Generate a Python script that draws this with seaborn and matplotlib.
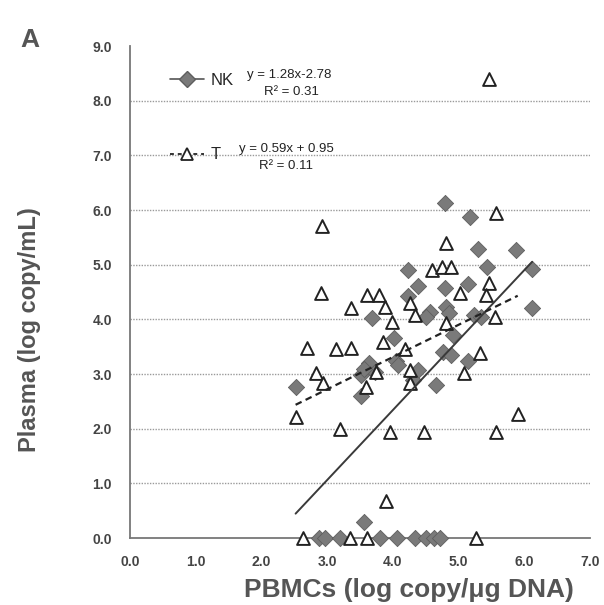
import matplotlib
matplotlib.use("Agg")
import matplotlib.pyplot as plt
from matplotlib.lines import Line2D
import seaborn as sns
import numpy as np
import pandas as pd

# ---- data ----
nk_x = [4.79, 5.17, 5.29, 5.87, 4.23, 5.44, 6.12, 4.38, 4.79, 5.14, 4.23, 6.12,
        4.56, 4.51, 4.81, 4.86, 5.24, 5.34, 4.91, 4.76, 4.88, 5.14, 4.38, 4.30,
        4.66, 3.68, 4.02, 3.63, 3.52, 3.73, 3.56, 4.05, 4.08, 2.52, 3.52, 3.56,
        2.88, 2.97, 3.20, 3.80, 4.07, 4.33, 4.51, 4.63, 4.72]
nk_y = [6.13, 5.88, 5.28, 5.27, 4.91, 4.95, 4.92, 4.61, 4.57, 4.65, 4.43, 4.20,
        4.14, 4.05, 4.23, 4.11, 4.08, 4.05, 3.72, 3.41, 3.35, 3.23, 3.07, 2.89,
        2.80, 4.02, 3.65, 3.20, 2.98, 3.04, 3.10, 3.23, 3.16, 2.76, 2.60, 0.30,
        0.0, 0.0, 0.0, 0.0, 0.0, 0.0, 0.0, 0.0, 0.0]

t_x = [5.47, 2.92, 5.57, 4.81, 4.59, 4.75, 4.89, 2.90, 3.60, 3.79, 5.02, 5.46,
       5.41, 3.88, 3.36, 4.26, 4.33, 5.55, 3.99, 4.81, 3.85, 2.70, 3.14, 3.36,
       4.18, 5.32, 5.09, 4.26, 4.26, 3.75, 2.83, 2.93, 3.59, 2.52, 5.90, 3.19,
       3.95, 4.48, 5.57, 3.89, 2.64, 3.35, 3.60, 5.26]
t_y = [8.40, 5.71, 5.95, 5.40, 4.91, 4.95, 4.96, 4.49, 4.44, 4.44, 4.48, 4.66,
       4.44, 4.23, 4.20, 4.29, 4.08, 4.05, 3.95, 3.94, 3.59, 3.47, 3.45, 3.47,
       3.45, 3.38, 3.01, 3.07, 2.83, 3.04, 3.01, 2.83, 2.77, 2.22, 2.27, 1.99,
       1.94, 1.94, 1.94, 0.68, 0.0, 0.0, 0.0, 0.0]

# trendline coefficients as printed on the chart
nk_fit = (1.28, -2.78)
t_fit = (0.59, 0.95)
nk_eq = ["y = 1.28x-2.78", "R² = 0.31"]
t_eq = ["y = 0.59x + 0.95", "R² = 0.11"]

x_ticks = [0, 1, 2, 3, 4, 5, 6, 7]
y_ticks = [0, 1, 2, 3, 4, 5, 6, 7, 8, 9]

sns.set_style("white")
plt.rcParams['font.family'] = ['Liberation Sans', 'DejaVu Sans']

fig = plt.figure(figsize=(6.04, 6.05), dpi=100)
ax = fig.add_axes([130/604, 1-538/605, 460/604, 492/605])

nk_df = pd.DataFrame({"x": nk_x, "y": nk_y})
t_df = pd.DataFrame({"x": t_x, "y": t_y})

# grid lines
for v in y_ticks[1:-1]:
    ax.axhline(v, color="#9a9a9a", lw=1.0, ls=(0, (1, 1)), zorder=0)

sns.scatterplot(data=nk_df, x="x", y="y", marker="D", s=68, color="#7a7a7a",
                edgecolor="#5e5e5e", linewidth=0.6, ax=ax, zorder=3)
sns.scatterplot(data=t_df, x="x", y="y", marker="^", s=85, facecolor="white",
                edgecolor="#222222", linewidth=1.4, ax=ax, zorder=4)

# trend lines
nk_line = pd.DataFrame({"x": [min(nk_x), max(nk_x)]})
nk_line["y"] = nk_fit[0] * nk_line["x"] + nk_fit[1]
t_line = pd.DataFrame({"x": [min(t_x), max(t_x)]})
t_line["y"] = t_fit[0] * t_line["x"] + t_fit[1]
sns.lineplot(data=nk_line, x="x", y="y", color="#3a3a3a", lw=1.4, ax=ax, zorder=5)
sns.lineplot(data=t_line, x="x", y="y", color="#222222", lw=1.6,
             linestyle=(0, (3, 2)), ax=ax, zorder=5)

ax.set_xlim(0, 7)
ax.set_ylim(0, 9)
ax.set_xticks(x_ticks)
ax.set_yticks(y_ticks)
ax.set_xticklabels([f"{v:.1f}" for v in x_ticks], fontsize=10, fontweight="bold", color="#444444")
ax.set_yticklabels([f"{v:.1f}" for v in y_ticks], fontsize=10, fontweight="bold", color="#444444")
ax.tick_params(axis="x", length=4, width=1, color="#888888", direction="out", pad=8)
ax.tick_params(axis="y", length=4, width=1, color="#888888", direction="out", pad=9)
for s in ["top", "right"]:
    ax.spines[s].set_visible(False)
for s in ["left", "bottom"]:
    ax.spines[s].set_color("#777777")
    ax.spines[s].set_linewidth(1.3)
for c in ax.collections:
    c.set_clip_on(False)

ax.set_xlabel("PBMCs (log copy/μg DNA)", fontsize=19, fontweight="bold", color="#555555")
ax.xaxis.set_label_coords((409 - 130) / 460, -(590 - 538) / 492)
ax.xaxis.label.set_va("center")
ax.set_ylabel("Plasma (log copy/mL)", fontsize=17, fontweight="bold", color="#555555")
ax.yaxis.set_label_coords(-(130 - 30) / 460, (538 - 330) / 492)
ax.yaxis.label.set_va("center")

handles = [
    Line2D([0], [0], color="#555555", lw=1.2, marker="D", markersize=8,
           markerfacecolor="#7a7a7a", markeredgecolor="#5e5e5e"),
    Line2D([0], [0], color="#333333", lw=1.4, ls=(0, (2, 2)), marker="^", markersize=9,
           markerfacecolor="white", markeredgecolor="#222222", markeredgewidth=1.3),
]
ax.legend(handles, ["NK", "T"], loc="upper left", bbox_to_anchor=(0.055, 0.975),
          frameon=False, fontsize=12, labelspacing=3.55, handlelength=2.0,
          handletextpad=0.4)

ax.text(0.345, 0.942, nk_eq[0], transform=ax.transAxes, ha="center", va="center", fontsize=9.5, color="#222222")
ax.text(0.350, 0.906, nk_eq[1], transform=ax.transAxes, ha="center", va="center", fontsize=9.5, color="#222222")
ax.text(0.340, 0.791, t_eq[0], transform=ax.transAxes, ha="center", va="center", fontsize=9.5, color="#222222")
ax.text(0.340, 0.756, t_eq[1], transform=ax.transAxes, ha="center", va="center", fontsize=9.5, color="#222222")

fig.text(30/604, 1-40/605, "A", fontsize=19, fontweight="bold", color="#555555", ha="center", va="center")

fig.savefig("out.png", dpi=100)
